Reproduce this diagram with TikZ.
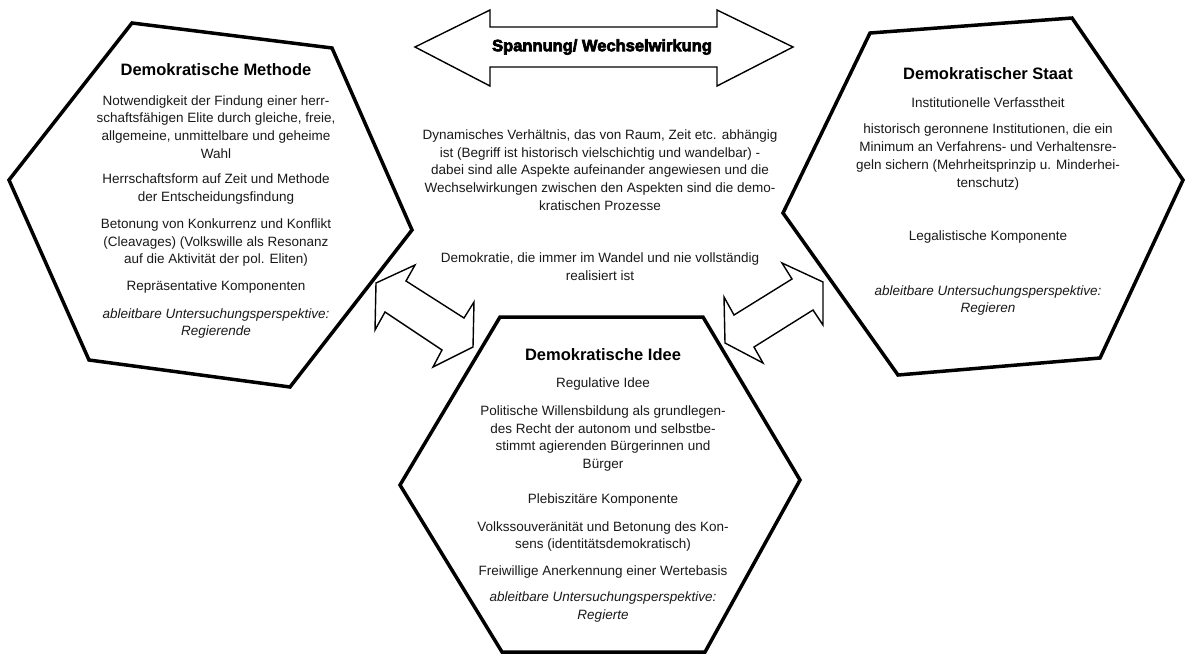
\documentclass[tikz,border=0pt]{standalone}
\usepackage{fontspec}
\setmainfont{Liberation Sans}
\newfontfamily\heavyfont[FakeBold=4]{Liberation Sans Bold}
\begin{document}
\begin{tikzpicture}[x=1pt,y=-1pt,
  hexa/.style={draw=black, line width=3.5pt, fill=white, line join=miter},
  dblarrow/.style={draw=black, line width=1.4pt, fill=white, line join=miter},
  txt/.style={align=center, inner sep=0pt, text=black!90, font=\fontsize{13.5}{17.7}\selectfont},
  itxt/.style={txt, font=\fontsize{13.5}{17.7}\selectfont\itshape},
  ttl/.style={inner sep=0pt, text=black, font=\fontsize{16.5}{20}\selectfont\bfseries},
  arrlabel/.style={inner sep=0pt, text=black, font=\fontsize{16.5}{18}\selectfont\heavyfont}]
\useasboundingbox[fill=white] (0,0) rectangle (1185,657);

% hexagons
\draw[hexa] (132,23) -- (332,48) -- (412,230) -- (290,387) -- (89,360) -- (9,180) -- cycle;
\draw[hexa] (870,33) -- (1072,18) -- (1183,180) -- (1100,358) -- (898,375) -- (783,213) -- cycle;
\draw[hexa] (500,317) -- (703,317) -- (800,480) -- (705,652) -- (502,652) -- (400,485) -- cycle;

% top double arrow
\draw[dblarrow] (415,47) -- (490,10) -- (490,27) -- (717,27) -- (717,10) -- (793,47) -- (717,86) -- (717,67) -- (490,67) -- (490,86) -- cycle;
\node[arrlabel] (span) at (602,47) {Spannung/ Wechselwirkung};

% small double arrows
\draw[dblarrow] (415,265) -- (376,283) -- (375,330) -- (385,312) -- (442,350) -- (433,367) -- (473,347) -- (474,302) -- (464,318) -- (406,281) -- cycle;
\draw[dblarrow] (782,263) -- (823,282) -- (823,325) -- (813,310) -- (754,347) -- (763,363) -- (725,343) -- (724,297) -- (734,315) -- (792,279) -- cycle;

% left hexagon text
\node[ttl] (mt) at (216,70) {Demokratische Methode};
\node[txt] (m1) at (216,126.75) {Notwendigkeit der Findung einer herr-\\schaftsfähigen Elite durch gleiche, freie,\\allgemeine, unmittelbare und geheime\\Wahl};
\node[txt] (m2) at (216,189) {Herrschaftsform auf Zeit und Methode\\der Entscheidungsfindung};
\node[txt] (m3) at (216,242.7) {Betonung von Konkurrenz und Konflikt\\(Cleavages) (Volkswille als Resonanz\\auf die Aktivität der pol. Eliten)};
\node[txt] (m4) at (216,287.5) {Repräsentative Komponenten};
\node[itxt] (m5) at (216,323.5) {ableitbare Untersuchungsperspektive:\\Regierende};

% centre text
\node[txt] (c1) at (600,170) {Dynamisches Verhältnis, das von Raum, Zeit etc. abhängig\\ist (Begriff ist historisch vielschichtig und wandelbar) -\\dabei sind alle Aspekte aufeinander angewiesen und die\\Wechselwirkungen zwischen den Aspekten sind die demo-\\kratischen Prozesse};
\node[txt] (c2) at (600,266.5) {Demokratie, die immer im Wandel und nie vollständig\\realisiert ist};

% right hexagon text
\node[ttl] (st) at (988,74) {Demokratischer Staat};
\node[txt] (s1) at (988,103) {Institutionelle Verfasstheit};
\node[txt] (s2) at (988,157) {historisch geronnene Institutionen, die ein\\Minimum an Verfahrens- und Verhaltensre-\\geln sichern (Mehrheitsprinzip u. Minderhei-\\tenschutz)};
\node[txt] (s3) at (988,237) {Legalistische Komponente};
\node[itxt] (s4) at (988,300.5) {ableitbare Untersuchungsperspektive:\\Regieren};

% bottom hexagon text
\node[ttl] (it) at (603,355) {Demokratische Idee};
\node[txt] (i1) at (603,384) {Regulative Idee};
\node[txt] (i2) at (603,438.5) {Politische Willensbildung als grundlegen-\\des Recht der autonom und selbstbe-\\stimmt agierenden Bürgerinnen und\\Bürger};
\node[txt] (i3) at (603,500) {Plebiszitäre Komponente};
\node[txt] (i4) at (603,536.5) {Volkssouveränität und Betonung des Kon-\\sens (identitätsdemokratisch)};
\node[txt] (i5) at (603,572) {Freiwillige Anerkennung einer Wertebasis};
\node[itxt] (i6) at (603,607) {ableitbare Untersuchungsperspektive:\\Regierte};
\end{tikzpicture}
\end{document}
